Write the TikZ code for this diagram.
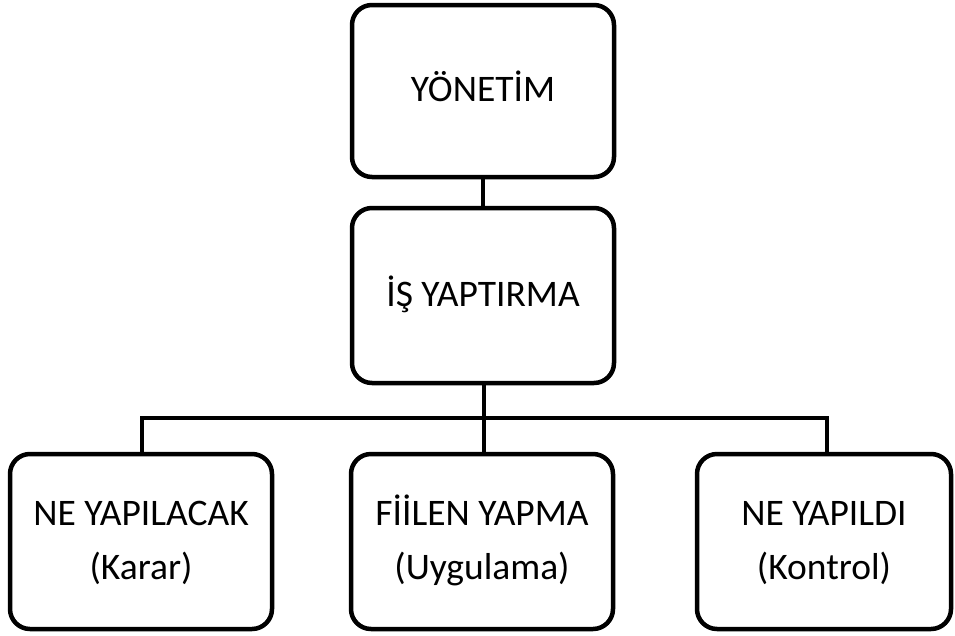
\documentclass[tikz,border=0pt]{standalone}
\usepackage{fontspec}
\setmainfont{Carlito}
\usepackage{tikz}
\usetikzlibrary{positioning}

\begin{document}
\begin{tikzpicture}[
  x=1pt, y=-1pt,
  box/.style = {draw, line width=4.5pt, rounded corners=20pt, align=center,
    inner sep=0pt, minimum width=262pt, minimum height=175pt,
    font=\fontsize{37.5}{54}\selectfont},
  link/.style = {line width=4.5pt}
  ]
	\useasboundingbox (0,0) rectangle (955,635);

	\node[box, minimum height=172pt] (yonetim) at (483,91) {YÖNETİM\strut};
	\node[box] (yaptirma) at (483,295.5) {İŞ YAPTIRMA\strut};

	\node[box] (karar) at (141,541.5) {NE YAPILACAK\strut\\(Karar)\strut};
	\node[box] (uygulama) at (482,541.5) {FİİLEN YAPMA\strut\\(Uygulama)\strut};
	\node[box, minimum width=254pt] (kontrol) at (824,541.5) {NE YAPILDI\strut\\(Kontrol)\strut};

	\coordinate (bar) at (484,418);

	\draw[link] (yonetim) -- (yaptirma);
	\draw[link] (yaptirma.south -| bar) -- (uygulama.north -| bar);
	\draw[link] ([xshift=1pt]karar.north) |- (bar) -| ([xshift=3pt]kontrol.north);

\end{tikzpicture}
\end{document}
